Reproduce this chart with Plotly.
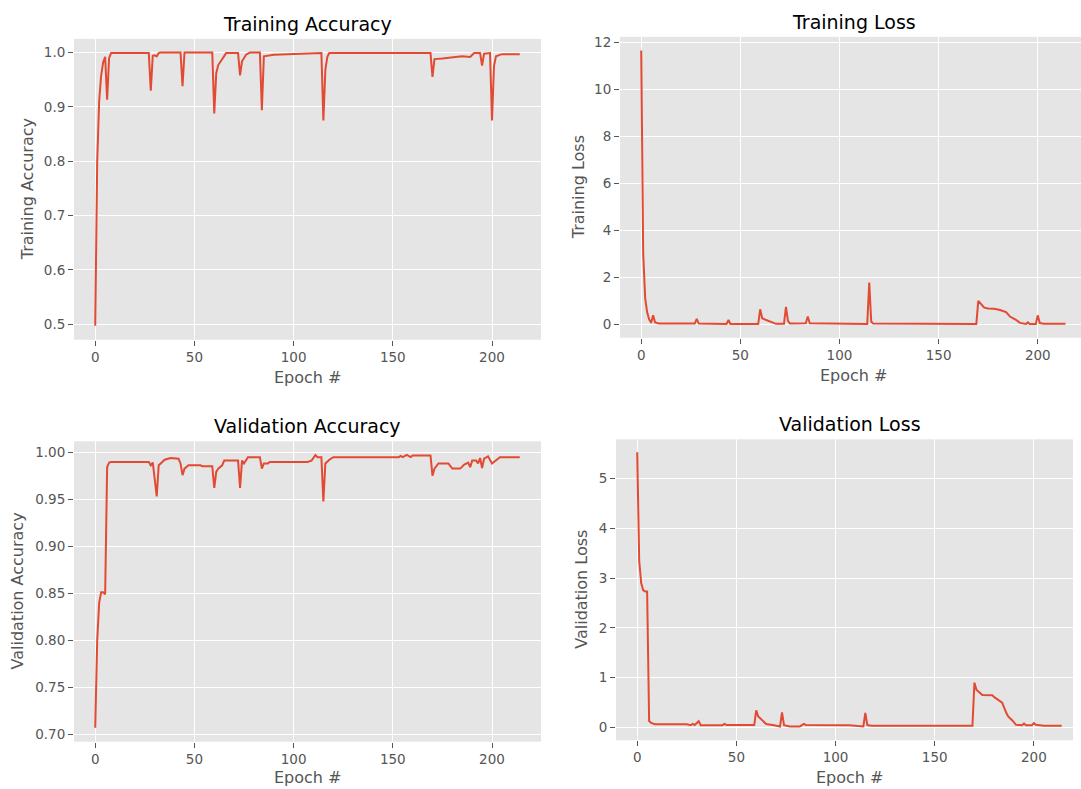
import plotly.graph_objects as go

# ---------------- data (key epochs) ----------------
train_acc_epoch = [0, 1, 2, 3, 4, 5, 6, 7, 8, 27, 28, 29, 30, 31, 32, 33, 43, 44, 45,
                   59, 60, 61, 62, 64, 66, 72, 73, 74, 76, 78, 83, 84, 85, 90, 100, 112,
                   114, 115, 116, 117, 118, 168, 169, 170, 171, 175, 180, 185, 189, 190,
                   191, 194, 195, 196, 198, 199, 200, 201, 202, 205, 214]
train_acc = [0.497, 0.80, 0.912, 0.958, 0.982, 0.992, 0.913, 0.990, 0.999, 0.999, 0.930,
             0.994, 0.995, 0.993, 0.999, 1.000, 1.000, 0.938, 1.000,
             1.000, 0.888, 0.962, 0.977, 0.987, 0.999, 0.999, 0.958, 0.984, 0.996, 1.000,
             1.000, 0.894, 0.993, 0.996, 0.997, 0.999,
             0.999, 0.875, 0.968, 0.992, 0.999, 0.999, 0.999, 0.955, 0.988, 0.989, 0.991,
             0.993, 0.992, 0.995, 0.999, 0.999, 0.976, 0.998, 0.999, 0.999, 0.875, 0.975,
             0.993, 0.997, 0.997]

train_loss_epoch = [0, 1, 2, 3, 4, 5, 6, 7, 9, 27, 28, 29, 43, 44, 45, 59, 60, 61, 63, 66,
                    68, 72, 73, 74, 75, 83, 84, 85, 100, 114, 115, 116, 117, 169, 170, 171,
                    173, 175, 178, 181, 184, 186, 189, 191, 194, 195, 196, 199, 200, 201,
                    203, 214]
train_loss = [11.66, 3.0, 1.1, 0.5, 0.2, 0.05, 0.37, 0.07, 0.02, 0.02, 0.22, 0.02, 0.0,
              0.17, 0.0, 0.0, 0.63, 0.25, 0.17, 0.06, 0.01, 0.01, 0.73, 0.14, 0.02, 0.03,
              0.32, 0.03, 0.02, 0.0, 1.77, 0.11, 0.02, 0.0, 0.99, 0.89, 0.70, 0.66, 0.65,
              0.60, 0.51, 0.32, 0.18, 0.05, 0.0, 0.07, 0.0, 0.0, 0.37, 0.04, 0.01, 0.01]

val_acc_epoch = [0, 1, 2, 3, 4, 5, 6, 7, 8, 27, 28, 29, 31, 32, 33, 35, 38, 42, 43, 44, 45,
                 47, 53, 54, 59, 60, 61, 62, 64, 65, 72, 73, 74, 75, 77, 83, 84, 85, 87,
                 88, 107, 109, 111, 112, 114, 115, 116, 118, 120, 153, 154, 155, 157, 159,
                 160, 169, 170, 171, 173, 178, 180, 184, 186, 188, 189, 190, 192, 193, 194,
                 195, 196, 198, 200, 202, 204, 214]
val_acc = [0.707, 0.800, 0.840, 0.851, 0.851, 0.849, 0.984, 0.989, 0.9895, 0.9895, 0.986,
           0.989, 0.953, 0.986, 0.988, 0.992, 0.9937, 0.993, 0.988, 0.9755, 0.9825,
           0.986, 0.986, 0.985, 0.985, 0.962, 0.979, 0.9825, 0.986, 0.991, 0.991, 0.962,
           0.991, 0.988, 0.9947, 0.9947, 0.9825, 0.988, 0.988,
           0.9895, 0.9895, 0.991, 0.997, 0.9947, 0.9947, 0.9475, 0.988, 0.992, 0.9947,
           0.9947, 0.996, 0.9947, 0.997, 0.9947,
           0.9965, 0.9965, 0.975, 0.9825, 0.988, 0.988, 0.9825, 0.9825, 0.9867, 0.9888,
           0.984, 0.991, 0.991, 0.988, 0.9937,
           0.983, 0.993, 0.9955, 0.988, 0.991, 0.9947, 0.9947]

val_loss_epoch = [0, 1, 2, 3, 4, 5, 6, 7, 9, 25, 27, 28, 29, 31, 32, 43, 44, 45, 59, 60, 61,
                  63, 65, 69, 72, 73, 74, 77, 82, 84, 85, 107, 114, 115, 116, 118, 169, 170,
                  171, 174, 179, 180, 184, 186, 187, 189, 191, 194, 195, 196, 199, 200, 201,
                  205, 214]
val_loss = [5.53, 3.35, 2.90, 2.76, 2.73, 2.73, 0.13, 0.09, 0.066, 0.065, 0.047, 0.07, 0.05,
            0.126, 0.045, 0.045, 0.07, 0.05, 0.05, 0.345, 0.22, 0.15, 0.07, 0.045, 0.02,
            0.30, 0.045, 0.02, 0.02, 0.07, 0.05, 0.045, 0.02, 0.29, 0.047, 0.033, 0.033,
            0.90, 0.76, 0.65, 0.645, 0.61, 0.50, 0.30, 0.22, 0.146, 0.053, 0.045, 0.08,
            0.045, 0.045, 0.086, 0.055, 0.033, 0.033]

x_ticks = [0, 50, 100, 150, 200]
train_acc_ticks = [0.5, 0.6, 0.7, 0.8, 0.9, 1.0]
train_loss_ticks = [0, 2, 4, 6, 8, 10, 12]
val_acc_ticks = [0.70, 0.75, 0.80, 0.85, 0.90, 0.95, 1.00]
val_loss_ticks = [0, 1, 2, 3, 4, 5]

titles = ["Training Accuracy", "Training Loss", "Validation Accuracy", "Validation Loss"]
x_label = "Epoch #"

# ---------------- layout geometry ----------------
W, H = 1081, 789
LINE = "#E24A33"
FONT = "DejaVu Sans"
GREY = "#555555"


def px_x(p):
    return p / W


def px_y(p):
    return 1 - p / H


panels = [
    dict(xd=(74, 541), yd=(36, 338), xr=[-10.7, 224.7], yr=[0.4713, 1.0252],
         ticks=train_acc_ticks, fmt=".1f", ex=train_acc_epoch, ey=train_acc,
         title_xy=(307.5, 21), ylab_x=27, xlab_y=376),
    dict(xd=(620, 1081), yd=(34, 336), xr=[-10.7, 221.8], yr=[-0.583, 12.24],
         ticks=train_loss_ticks, fmt="d", ex=train_loss_epoch, ey=train_loss,
         title_xy=(853.5, 19), ylab_x=578, xlab_y=374),
    dict(xd=(74, 541), yd=(440, 741.5), xr=[-10.7, 224.7], yr=[0.6922, 1.0115],
         ticks=val_acc_ticks, fmt=".2f", ex=val_acc_epoch, ey=val_acc,
         title_xy=(307.5, 425), ylab_x=18, xlab_y=777),
    dict(xd=(616, 1073), yd=(438, 740), xr=[-10.7, 219.7], yr=[-0.256, 5.79],
         ticks=val_loss_ticks, fmt="d", ex=val_loss_epoch, ey=val_loss,
         title_xy=(849.5, 423), ylab_x=582, xlab_y=777),
]

fig = go.Figure()
layout = dict(
    width=W, height=H, margin=dict(l=0, r=0, t=0, b=0),
    paper_bgcolor="white", plot_bgcolor="#E5E5E5",
    showlegend=False, font=dict(family=FONT, color=GREY, size=13),
)
annotations = []

for i, p in enumerate(panels):
    n = "" if i == 0 else str(i + 1)
    fig.add_trace(go.Scatter(
        x=p["ex"], y=p["ey"], mode="lines",
        line=dict(color=LINE, width=2),
        xaxis="x" + n, yaxis="y" + n, hoverinfo="x+y",
    ))
    common = dict(
        showgrid=True, gridcolor="white", gridwidth=1.3, zeroline=False,
        showline=False, ticks="outside", ticklen=5, tickwidth=1,
        tickcolor=GREY, tickfont=dict(family=FONT, size=13.5, color=GREY),
    )
    layout["xaxis" + n] = dict(
        common, domain=[px_x(p["xd"][0]), px_x(p["xd"][1])],
        range=p["xr"], tickvals=x_ticks, anchor="y" + n,
    )
    ytext = [format(v, p["fmt"]) if p["fmt"] != "d" else str(int(v)) for v in p["ticks"]]
    layout["yaxis" + n] = dict(
        common, domain=[px_y(p["yd"][1]), px_y(p["yd"][0])],
        range=p["yr"], tickvals=p["ticks"], ticktext=ytext, anchor="x" + n,
    )
    # subplot title
    annotations.append(dict(
        text=titles[i], xref="paper", yref="paper",
        x=px_x(p["title_xy"][0]), y=px_y(p["title_xy"][1]),
        xanchor="center", yanchor="middle", showarrow=False,
        font=dict(family=FONT, size=19, color="black"),
    ))
    # x label
    xc = (p["xd"][0] + p["xd"][1]) / 2 if i % 2 == 0 else p["title_xy"][0]
    annotations.append(dict(
        text=x_label, xref="paper", yref="paper",
        x=px_x(xc), y=px_y(p["xlab_y"]),
        xanchor="center", yanchor="middle", showarrow=False,
        font=dict(family=FONT, size=16, color=GREY),
    ))
    # y label
    annotations.append(dict(
        text=titles[i], xref="paper", yref="paper",
        x=px_x(p["ylab_x"]), y=px_y((p["yd"][0] + p["yd"][1]) / 2),
        xanchor="center", yanchor="middle", textangle=-90, showarrow=False,
        font=dict(family=FONT, size=16, color=GREY),
    ))

layout["annotations"] = annotations
fig.update_layout(**layout)
fig.write_html(
    "out.html",
    config={"displayModeBar": False},
    post_script="document.body.style.margin='0';document.body.style.overflow='hidden';",
)
